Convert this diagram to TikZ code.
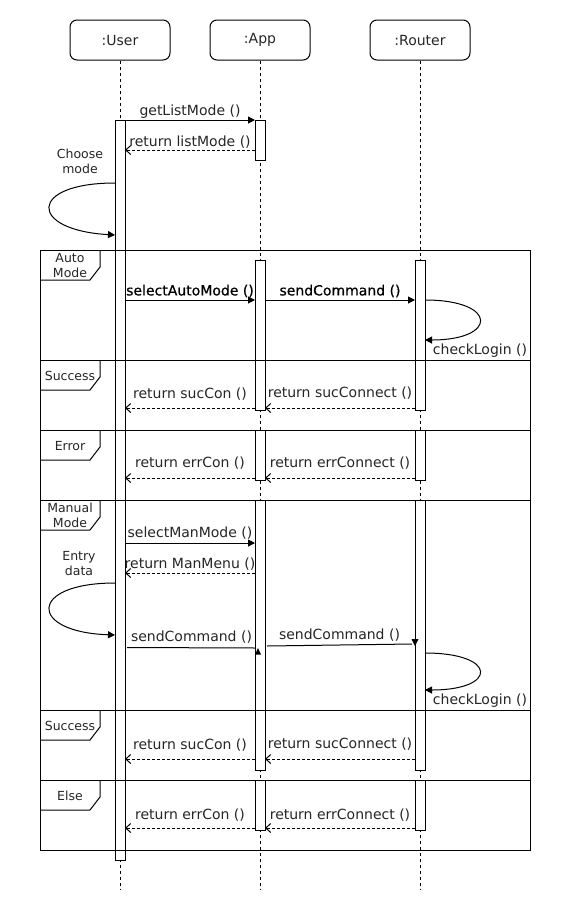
\documentclass[tikz,border=0pt]{standalone}
\usepackage{fontspec}
\setmainfont{DejaVu Sans}
\newfontfamily\boldish[FakeBold=0.7]{DejaVu Sans}
\usetikzlibrary{arrows.meta}
\begin{document}
\begin{tikzpicture}[x=1pt,y=-1pt,line width=1pt,
  head/.style={draw,rounded corners=7pt,minimum width=100pt,minimum height=40pt,inner sep=0pt,font=\fontsize{14}{16}\selectfont,text=black!85},
  lifeline/.style={line width=0.9pt,dash pattern=on 3pt off 3pt},
  actbar/.style={draw,fill=white,minimum width=10pt,inner sep=0pt,anchor=north},
  msg/.style={-{Triangle[length=7pt,width=7pt]}},
  ret/.style={dash pattern=on 3pt off 2pt,-{Straight Barb[length=5pt,width=9pt]}},
  lbl/.style={font=\fontsize{14}{16}\selectfont,inner sep=0pt,text=black!85},
  blbl/.style={font=\fontsize{14}{16}\boldish,inner sep=0pt,text=black},
  note/.style={font=\fontsize{12.5}{15}\selectfont,inner sep=0pt,align=center,text=black!85},
  tablbl/.style={font=\fontsize{12.5}{15}\selectfont,inner sep=0pt,align=center,text=black!85},
  selfloop/.style={-{Triangle[length=7pt,width=7pt]}}
]
\useasboundingbox (0,0) rectangle (572,922);
\fill[white] (0,0) rectangle (572,922);

% headers
\node[head] (user) at (120,40) {:User};
\node[head] (app) at (260,40) {:App};
\node[head] (router) at (420,40) {:Router};

% lifeline ends
\coordinate (userEnd) at (120,890);
\coordinate (appEnd) at (260,890);
\coordinate (routerEnd) at (420,890);
\draw[lifeline] (user.south) -- (userEnd);
\draw[lifeline] (app.south) -- (appEnd);
\draw[lifeline] (router.south) -- (routerEnd);

% activation bars
\node[actbar,minimum height=740pt] (uAct) at (120,120) {};
\node[actbar,minimum height=40pt] (aAct0) at (260,120) {};
\node[actbar,minimum height=150pt] (aAct1) at (260,260) {};
\node[actbar,minimum height=150pt] (rAct1) at (420,260) {};
\node[actbar,minimum height=50pt] (aAct2) at (260,430) {};
\node[actbar,minimum height=50pt] (rAct2) at (420,430) {};
\node[actbar,minimum height=270pt] (aAct3) at (260,500) {};
\node[actbar,minimum height=270pt] (rAct3) at (420,500) {};
\node[actbar,minimum height=50pt] (aAct4) at (260,780) {};
\node[actbar,minimum height=50pt] (rAct4) at (420,780) {};

% combined fragment frame
\draw (40,250) rectangle (530,850);
\foreach \yy in {360,430,500,710,780} \draw (40,\yy) -- (530,\yy);
\foreach \yy in {250,360,430,500,710,780}
  \draw (100,\yy) -- (100,\yy+17) -- (90,\yy+30) -- (40,\yy+30);
\node[tablbl] (tAuto) at (70,265.5) {Auto\\Mode};
\node[tablbl] (tSucc1) at (70,376) {Success};
\node[tablbl] (tErr) at (70,446) {Error};
\node[tablbl] (tMan) at (70,515.5) {Manual\\Mode};
\node[tablbl] (tSucc2) at (70,726) {Success};
\node[tablbl] (tElse) at (70,796) {Else};

% message end points
\coordinate (m1s) at (125,120); \coordinate (m1e) at (255,120);
\coordinate (m2s) at (255,150); \coordinate (m2e) at (125,150);
\coordinate (l1s) at (115,183); \coordinate (l1e) at (115,235);
\coordinate (m3s) at (125,300); \coordinate (m3e) at (255,300);
\coordinate (m4s) at (265,300); \coordinate (m4e) at (415,300);
\coordinate (l2s) at (425,300); \coordinate (l2e) at (425,340);
\coordinate (m5s) at (255,408); \coordinate (m5e) at (125,408);
\coordinate (m6s) at (415,408); \coordinate (m6e) at (265,408);
\coordinate (m7s) at (255,478); \coordinate (m7e) at (125,478);
\coordinate (m8s) at (415,478); \coordinate (m8e) at (265,478);
\coordinate (m9s) at (125,543); \coordinate (m9e) at (255,543);
\coordinate (m10s) at (255,573); \coordinate (m10e) at (125,573);
\coordinate (l3s) at (115,583); \coordinate (l3e) at (115,635);
\coordinate (m11s) at (127,647.5); \coordinate (m11e) at (256,648);
\coordinate (m12s) at (267,646); \coordinate (m12e) at (412,644);
\coordinate (l4s) at (425,653); \coordinate (l4e) at (425,690);
\coordinate (m13s) at (255,759); \coordinate (m13e) at (125,759);
\coordinate (m14s) at (415,759); \coordinate (m14e) at (265,759);
\coordinate (m15s) at (255,828); \coordinate (m15e) at (125,828);
\coordinate (m16s) at (415,828); \coordinate (m16e) at (265,828);

% messages
\draw[msg] (m1s) -- (m1e) node[lbl,midway,yshift=8pt] {getListMode ()};
\draw[ret] (m2s) -- (m2e) node[lbl,midway,yshift=8pt] {return listMode ()};
\node[note] (nChoose) at (80,161) {Choose\\mode};
\draw[selfloop] (l1s) .. controls (28,183) and (28,230) .. (l1e);

\draw[msg] (m3s) -- (m3e) node[blbl,midway,yshift=9pt] {selectAutoMode ()};
\draw[msg] (m4s) -- (m4e) node[blbl,midway,yshift=9pt] {sendCommand ()};
\draw[selfloop] (l2s) .. controls (498,300) and (498,340) .. (l2e);
\node[lbl] (nCheck1) at (480,351) {checkLogin ()};

\draw[ret] (m5s) -- (m5e) node[lbl,midway,yshift=14pt] {return sucCon ()};
\draw[ret] (m6s) -- (m6e) node[lbl,midway,yshift=15pt] {return sucConnect ()};
\draw[ret] (m7s) -- (m7e) node[lbl,midway,yshift=15pt] {return errCon ()};
\draw[ret] (m8s) -- (m8e) node[lbl,midway,yshift=15pt] {return errConnect ()};

\draw[msg] (m9s) -- (m9e) node[lbl,midway,yshift=10pt] {selectManMode ()};
\draw[ret] (m10s) -- (m10e) node[lbl,midway,yshift=9pt] {return ManMenu ()};
\node[note] (nEntry) at (79,563.5) {Entry\\data};
\draw[selfloop] (l3s) .. controls (28,583) and (28,632) .. (l3e);

\draw (m11s) -- (m11e) node[lbl,midway,yshift=11pt] {sendCommand ()};
\fill (255,654.5) -- (261,654.5) -- (258,648) -- cycle;
\draw (m12s) -- (m12e) node[lbl,midway,yshift=10pt] {sendCommand ()};
\fill (411.5,639) -- (418.5,639) -- (415,646) -- cycle;
\draw[selfloop] (l4s) .. controls (498,653) and (498,690) .. (l4e);
\node[lbl] (nCheck2) at (480,701) {checkLogin ()};

\draw[ret] (m13s) -- (m13e) node[lbl,midway,yshift=14pt] {return sucCon ()};
\draw[ret] (m14s) -- (m14e) node[lbl,midway,yshift=15pt] {return sucConnect ()};
\draw[ret] (m15s) -- (m15e) node[lbl,midway,yshift=13pt] {return errCon ()};
\draw[ret] (m16s) -- (m16e) node[lbl,midway,yshift=13pt] {return errConnect ()};
\end{tikzpicture}
\end{document}
